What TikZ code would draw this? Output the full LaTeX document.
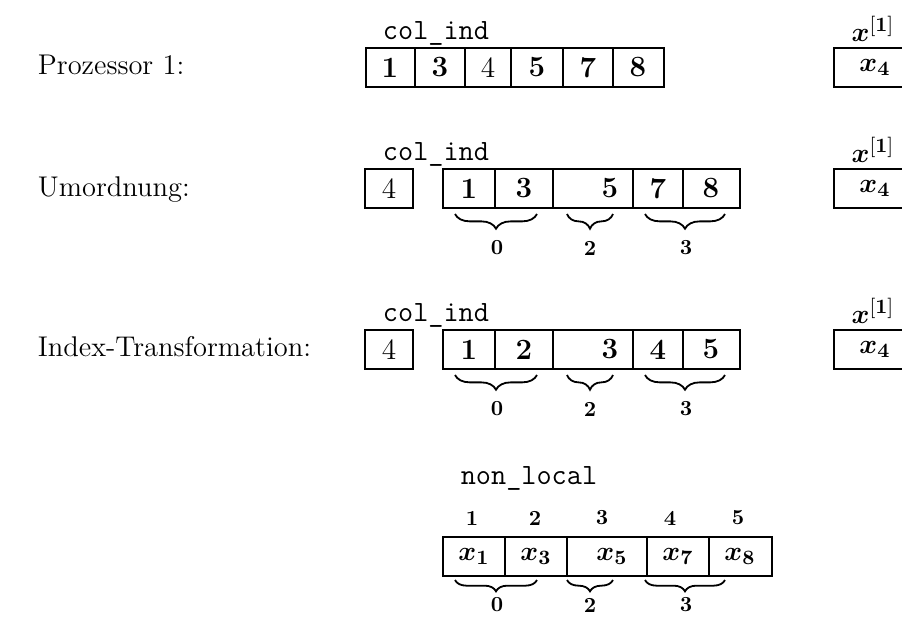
\documentclass[tikz,border=0pt]{standalone}
\usepackage{bm}
\usetikzlibrary{decorations.pathreplacing}
\begin{document}
\begin{tikzpicture}[x=0.442pt,y=-0.442pt,line width=0.8pt,
        every node/.style={font=\fontsize{13}{15}\selectfont},
        rowlabel/.style={anchor=base west,inner sep=0pt,font=\fontsize{12.6}{15}\selectfont},
        arrname/.style={font=\fontsize{13}{15}\selectfont\ttfamily},
        idx/.style={font=\fontsize{9.5}{11}\selectfont\bfseries},
        gap/.style={decorate,decoration={brace,mirror,amplitude=6.5pt}},
        lowgap/.style={decorate,decoration={brace,mirror,amplitude=5pt}}]
    \useasboundingbox (0,0) rectangle (902,616);

    % Prozessor 1
    \node[rowlabel] (proz) at (37,74) {Prozessor 1:};
    \node[arrname] (colA) at (436,33) {col\_ind};
    \draw (366,48) rectangle (664,87);
    \foreach \x in {415,465,511,563,613} \draw (\x,48) -- (\x,87);
    \node (a1) at (390,67.5) {\textbf{1}};
    \node (a2) at (440,67.5) {\textbf{3}};
    \node (a3) at (488,67.5) {4};
    \node (a4) at (537,67.5) {\textbf{5}};
    \node (a5) at (588,67.5) {\textbf{7}};
    \node (a6) at (638,67.5) {\textbf{8}};
    \node (xA) at (873,29) {$\bm{x}^{[\mathbf{1}]}$};
    \draw (912,48) -- (834,48) -- (834,87) -- (912,87);
    \node (xa) at (875,67.5) {$\bm{x_4}$};

    % Umordnung
    \node[rowlabel] (umo) at (37,196) {Umordnung:};
    \node[arrname] (colB) at (436,154) {col\_ind};
    \draw (365,169) rectangle (413,208);
    \node (b0) at (389,188.5) {4};
    \draw (443,169) rectangle (740,208);
    \foreach \x in {495,553,633,683} \draw (\x,169) -- (\x,208);
    \node (b1) at (469,188.5) {\textbf{1}};
    \node (b2) at (524,188.5) {\textbf{3}};
    \node (b3) at (610,188.5) {\textbf{5}};
    \node (b4) at (658,188.5) {\textbf{7}};
    \node (b5) at (711,188.5) {\textbf{8}};
    \draw[gap] (455,214) -- (537,214);
    \draw[gap] (567,214) -- (613,214);
    \draw[gap] (645,214) -- (725,214);
    \node[idx] (gb1) at (497,248) {0};
    \node[idx] (gb2) at (590,248) {2};
    \node[idx] (gb3) at (686,248) {3};
    \node (xB) at (873,150) {$\bm{x}^{[\mathbf{1}]}$};
    \draw (912,169) -- (834,169) -- (834,208) -- (912,208);
    \node (xb) at (875,188.5) {$\bm{x_4}$};

    % Index-Transformation
    \node[rowlabel] (itr) at (37,356) {Index-Transformation:};
    \node[arrname] (colC) at (436,315) {col\_ind};
    \draw (365,330) rectangle (413,369);
    \node (c0) at (389,349.5) {4};
    \draw (443,330) rectangle (740,369);
    \foreach \x in {495,553,633,683} \draw (\x,330) -- (\x,369);
    \node (c1) at (469,349.5) {\textbf{1}};
    \node (c2) at (524,349.5) {\textbf{2}};
    \node (c3) at (610,349.5) {\textbf{3}};
    \node (c4) at (658,349.5) {\textbf{4}};
    \node (c5) at (711,349.5) {\textbf{5}};
    \draw[gap] (455,375) -- (537,375);
    \draw[gap] (567,375) -- (613,375);
    \draw[gap] (645,375) -- (725,375);
    \node[idx] (gc1) at (497,409) {0};
    \node[idx] (gc2) at (590,409) {2};
    \node[idx] (gc3) at (686,409) {3};
    \node (xC) at (873,311) {$\bm{x}^{[\mathbf{1}]}$};
    \draw (912,330) -- (834,330) -- (834,369) -- (912,369);
    \node (xc) at (875,349.5) {$\bm{x_4}$};

    % non_local
    \node[arrname] (nloc) at (529,478) {non\_local};
    \node[idx] (n1) at (472,518) {1};
    \node[idx] (n2) at (535,518) {2};
    \node[idx] (n3) at (602,518) {3};
    \node[idx] (n4) at (670,518) {4};
    \node[idx] (n5) at (738,518) {5};
    \draw (443,537) rectangle (772,576);
    \foreach \x in {505,567,647,709} \draw (\x,537) -- (\x,576);
    \node (d1) at (474,556.5) {$\bm{x_1}$};
    \node (d2) at (536,556.5) {$\bm{x_3}$};
    \node (d3) at (612,556.5) {$\bm{x_5}$};
    \node (d4) at (678,556.5) {$\bm{x_7}$};
    \node (d5) at (740,556.5) {$\bm{x_8}$};
    \draw[lowgap] (455,580) -- (537,580);
    \draw[lowgap] (567,580) -- (613,580);
    \draw[lowgap] (645,580) -- (725,580);
    \node[idx] (gd1) at (497,605) {0};
    \node[idx] (gd2) at (590,605) {2};
    \node[idx] (gd3) at (686,605) {3};
\end{tikzpicture}
\end{document}
